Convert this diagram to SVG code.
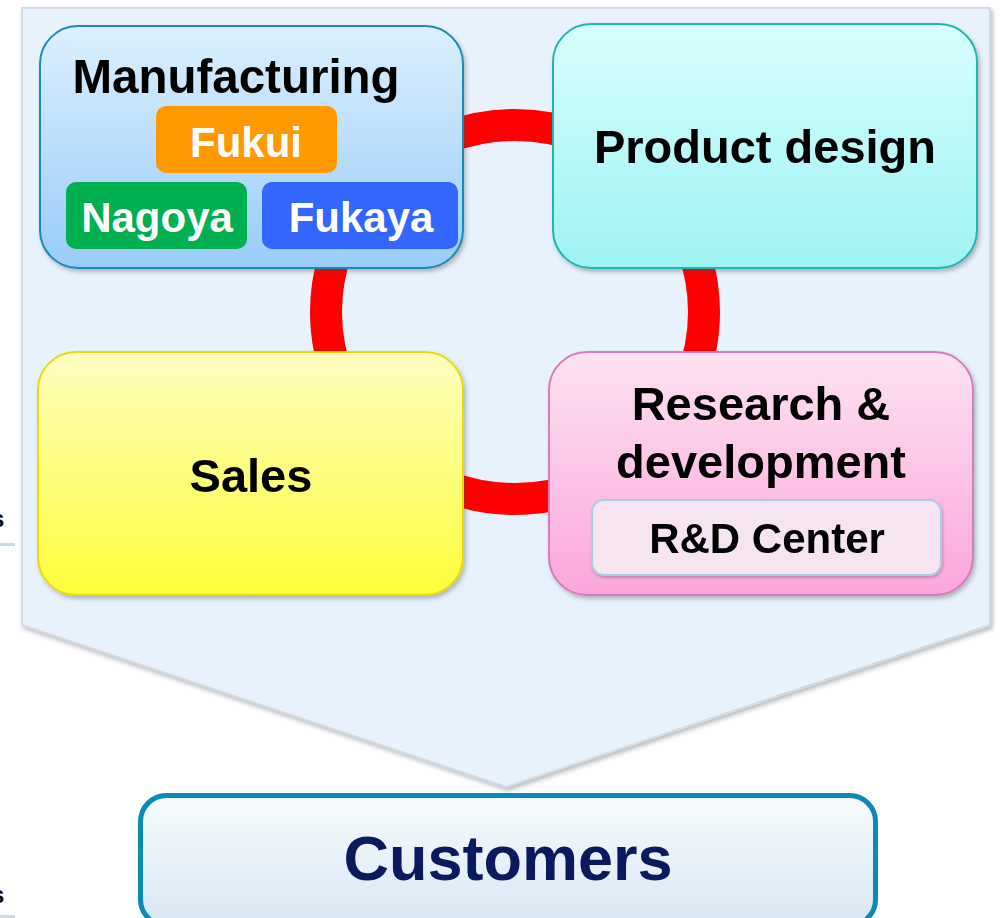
<svg xmlns="http://www.w3.org/2000/svg" width="1001" height="918" viewBox="0 0 1001 918">
  <defs>
    <linearGradient id="gManu" x1="0" y1="0" x2="0" y2="1">
      <stop offset="0" stop-color="#dcefff"/>
      <stop offset="1" stop-color="#98ccf8"/>
    </linearGradient>
    <linearGradient id="gDesign" x1="0" y1="0" x2="0" y2="1">
      <stop offset="0" stop-color="#d8fefe"/>
      <stop offset="1" stop-color="#9ef3f3"/>
    </linearGradient>
    <linearGradient id="gSales" x1="0" y1="0" x2="0" y2="1">
      <stop offset="0" stop-color="#fdfdc0"/>
      <stop offset="1" stop-color="#fefe3a"/>
    </linearGradient>
    <linearGradient id="gRD" x1="0" y1="0" x2="0" y2="1">
      <stop offset="0" stop-color="#fde2f2"/>
      <stop offset="1" stop-color="#fca6dc"/>
    </linearGradient>
    <linearGradient id="gCust" x1="0" y1="0" x2="0" y2="1">
      <stop offset="0" stop-color="#f7fbfd"/>
      <stop offset="1" stop-color="#d8e7f3"/>
    </linearGradient>
    <filter id="shadow" x="-10%" y="-10%" width="125%" height="130%">
      <feDropShadow dx="2" dy="3" stdDeviation="2.2" flood-color="#404040" flood-opacity="0.35"/>
    </filter>
    <filter id="softShadow" x="-10%" y="-10%" width="125%" height="130%">
      <feDropShadow dx="1" dy="2" stdDeviation="1.5" flood-color="#404040" flood-opacity="0.3"/>
    </filter>
  </defs>
  <style>
    text { font-family: "Liberation Sans", Arial, sans-serif; font-weight: bold; text-anchor: middle; }
    .dark { fill: #000000; }
    .white { fill: #ffffff; }
    .big { font-size: 47px; }
    .mid { font-size: 42px; }
    .edge { font-size: 24px; text-anchor: start; }
  </style>

  <rect width="1001" height="918" fill="#ffffff"/>

  <!-- text fragments running off the left edge -->
  <text x="-9" y="527" class="dark edge">s</text>
  <rect x="0" y="543" width="15" height="3" fill="#c9d9e6"/>
  <text x="-9" y="903" class="dark edge">s</text>
  <rect x="0" y="915" width="15" height="3" fill="#c9d9e6"/>

  <!-- background pentagon arrow pointing to customers -->
  <g id="background">
    <polygon points="22,8 990,8 990,625 506,787 22,625" fill="#e8f2fc" stroke="#d2dae4" stroke-width="2" filter="url(#shadow)"/>
  </g>

  <!-- red ring linking the four functions -->
  <g id="connectors">
    <ellipse cx="515" cy="312" rx="189" ry="187" fill="none" stroke="#ff0000" stroke-width="32"/>
  </g>

  <g id="manufacturing" filter="url(#shadow)">
    <rect x="40" y="26" width="423" height="242" rx="38" fill="url(#gManu)" stroke="#1b8ab4" stroke-width="2"/>
    <text x="236" y="93" class="dark" style="font-size:47.5px">Manufacturing</text>
  </g>
  <g id="fukui">
    <rect x="156" y="106" width="181" height="67" rx="10" fill="#ff9900"/>
    <text x="246" y="157" class="white mid">Fukui</text>
  </g>
  <g id="nagoya">
    <rect x="66" y="182" width="181" height="67" rx="10" fill="#00b050"/>
    <text x="157" y="232" class="white mid">Nagoya</text>
  </g>
  <g id="fukaya">
    <rect x="262" y="182" width="196" height="67" rx="10" fill="#3366ff"/>
    <text x="361" y="232" class="white mid">Fukaya</text>
  </g>

  <g id="product-design" filter="url(#shadow)">
    <rect x="553" y="24" width="424" height="244" rx="38" fill="url(#gDesign)" stroke="#1cb8b0" stroke-width="2"/>
    <text x="765" y="163" class="dark big">Product design</text>
  </g>

  <g id="sales" filter="url(#shadow)">
    <rect x="38" y="352" width="425" height="243" rx="38" fill="url(#gSales)" stroke="#e6dc00" stroke-width="2"/>
    <text x="251" y="492" class="dark big">Sales</text>
  </g>

  <g id="research-development" filter="url(#shadow)">
    <rect x="549" y="352" width="424" height="243" rx="38" fill="url(#gRD)" stroke="#d67cb8" stroke-width="2"/>
    <text x="761" y="420" class="dark big">Research &amp;</text>
    <text x="761" y="478" class="dark big">development</text>
  </g>
  <g id="rd-center" filter="url(#softShadow)">
    <rect x="592" y="500" width="349" height="75" rx="12" fill="#f6e5f0" stroke="#a9cde2" stroke-width="2"/>
    <text x="767" y="553" class="dark mid">R&amp;D Center</text>
  </g>

  <g id="customers">
    <rect x="140.5" y="795.5" width="735" height="130" rx="26" fill="url(#gCust)" stroke="#0a8ab9" stroke-width="5"/>
    <text x="508" y="880" style="font-size:63px;fill:#0b1a5e">Customers</text>
  </g>
</svg>
